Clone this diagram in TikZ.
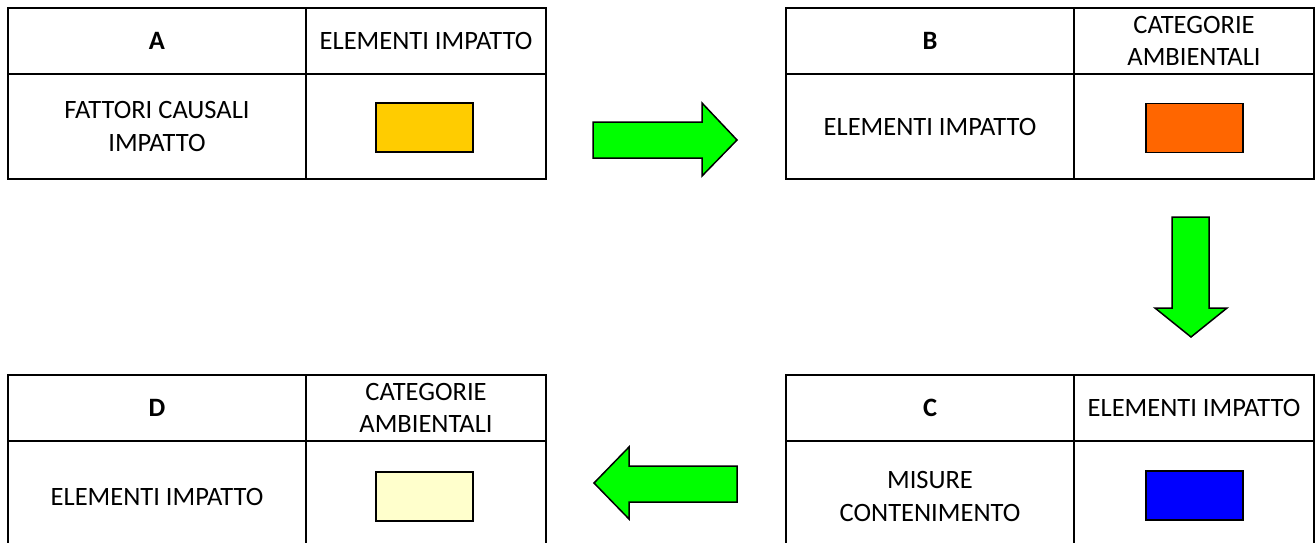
\documentclass[tikz,border=0pt]{standalone}
\usepackage{fontspec}
\setmainfont{Carlito}
\definecolor{arrgreen}{HTML}{00FF00}
\definecolor{cyellow}{HTML}{FFCC00}
\definecolor{corange}{HTML}{FF6600}
\definecolor{cblue}{HTML}{0000FF}
\definecolor{clight}{HTML}{FFFFCC}
\begin{document}
\begin{tikzpicture}[x=1pt,y=-1pt,
  cell/.style={draw=black, line width=2.2pt, rectangle, inner sep=0pt, align=center,
    font=\fontsize{26.5}{32.5}\selectfont, minimum height=#1},
  cell/.default=66pt,
  lw/.style={minimum width=298pt},
  lwb/.style={minimum width=288pt},
  rw/.style={minimum width=240pt},
  swatch/.style={draw=black, line width=1.3pt, rectangle, inner sep=0pt, minimum width=97pt, minimum height=49pt, fill=#1},
  bigarrow/.style={draw=black, line width=1.5pt, fill=arrgreen, line join=miter}
]
\useasboundingbox (0,0) rectangle (1316,542);
\fill[white] (0,0) rectangle (1316,542);

% Table A
\node[cell, lw] (Ah) at (157,41) {\bfseries A};
\node[cell, rw] (Ar) at (426,41) {ELEMENTI IMPATTO};
\node[cell=105pt, lw] (Ab) at (157,126.5) {FATTORI CAUSALI\\IMPATTO};
\node[cell=105pt, rw] (Ac) at (426,126.5) {};
\node[swatch=cyellow] (As) at (424.5,127.5) {};

% Table B
\node[cell, lwb] (Bh) at (930,41) {\bfseries B};
\node[cell, rw] (Br) at (1194,41) {CATEGORIE\\AMBIENTALI};
\node[cell=105pt, lwb] (Bb) at (930,126.5) {ELEMENTI IMPATTO};
\node[cell=105pt, rw] (Bc) at (1194,126.5) {};
\node[swatch=corange] (Bs) at (1194.5,128) {};

% Table C
\node[cell, lwb] (Ch) at (930,408) {\bfseries C};
\node[cell, rw] (Cr) at (1194,408) {ELEMENTI IMPATTO};
\node[cell=111pt, lwb] (Cb) at (930,496.5) {MISURE\\CONTENIMENTO};
\node[cell=111pt, rw] (Cc) at (1194,496.5) {};
\node[swatch=cblue] (Cs) at (1194.5,495.5) {};

% Table D
\node[cell, lw] (Dh) at (157,408) {\bfseries D};
\node[cell, rw] (Dr) at (426,408) {CATEGORIE\\AMBIENTALI};
\node[cell=111pt, lw] (Db) at (157,496.5) {ELEMENTI IMPATTO};
\node[cell=111pt, rw] (Dc) at (426,496.5) {};
\node[swatch=clight] (Ds) at (424.5,496.5) {};

% Arrows
\draw[bigarrow] (593,122) -- (702,122) -- (702,103) -- (737,140) -- (702,176) -- (702,158) -- (593,158) -- cycle;
\draw[bigarrow] (1172,217) -- (1209,217) -- (1209,308) -- (1227,308) -- (1191,337) -- (1155,308) -- (1172,308) -- cycle;
\draw[bigarrow] (737,466) -- (629,466) -- (629,447) -- (594,483) -- (629,519) -- (629,502) -- (737,502) -- cycle;
\end{tikzpicture}
\end{document}
